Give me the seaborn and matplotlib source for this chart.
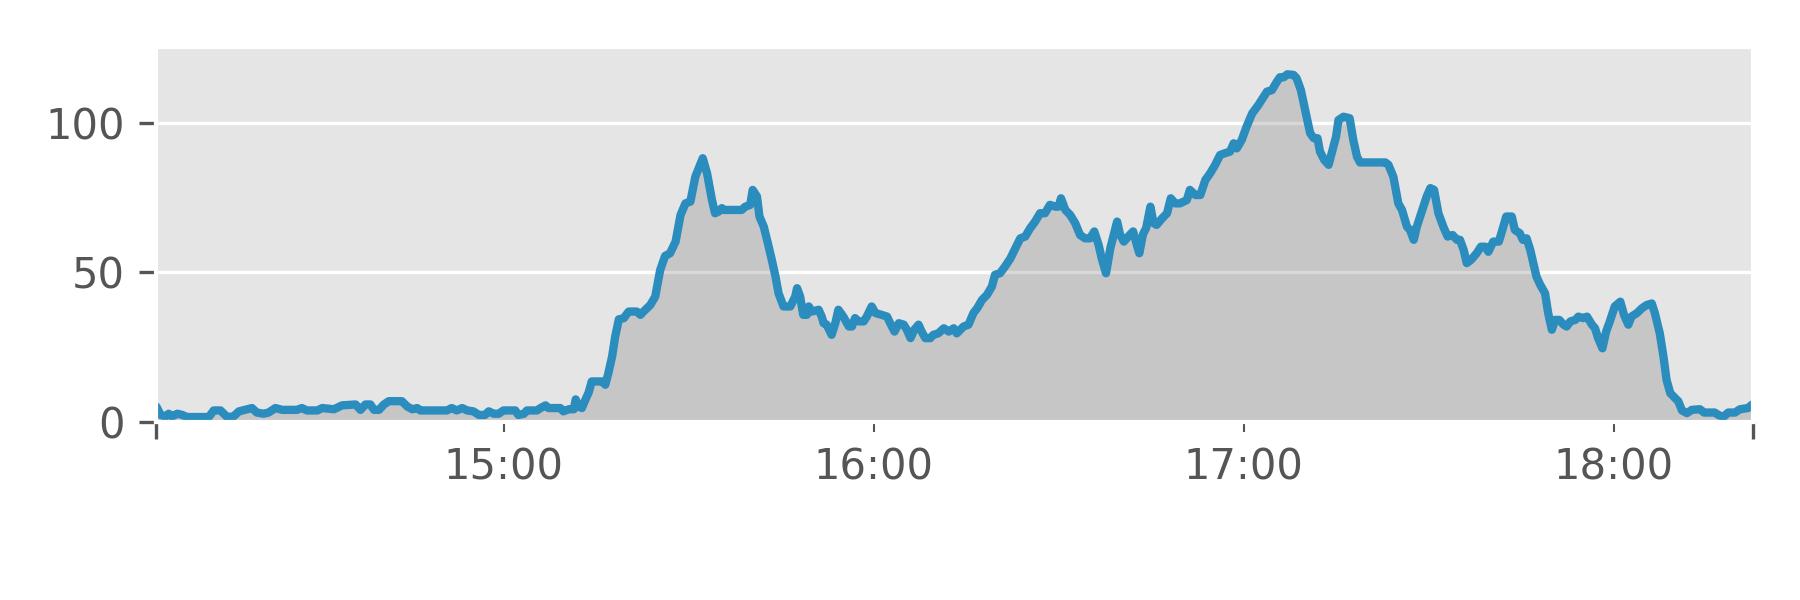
import matplotlib
matplotlib.use("Agg")
import matplotlib.pyplot as plt
import pandas as pd
import seaborn as sns

START = pd.Timestamp("2021-01-01 14:00")

# minutes after 14:00
MINUTES = [
    3.7, 4.4, 5.2, 5.7, 6.2, 7.1, 7.9, 8.7, 12.2, 13.0, 14.1, 15.2, 16.2, 17.1,
    18.4, 19.2, 20.0, 21.1, 21.9, 23.0, 24.1, 26.5, 27.3, 28.1, 29.8, 30.6, 32.5,
    33.8, 36.0, 36.8, 37.6, 38.4, 39.0, 39.8, 40.6, 41.4, 43.5, 44.4, 45.2, 46.0,
    46.5,
    50.8, 51.6, 52.4, 53.3, 54.1, 55.1, 56.0, 57.0, 57.6, 58.4, 59.2, 60.0, 61.9,
    62.4, 63.3, 63.8, 65.4, 66.0, 66.8, 67.3, 69.2, 69.7, 70.6, 71.4, 71.7, 72.2,
    72.7, 73.3, 73.8, 74.3, 76.0, 76.5, 77.0, 77.6, 78.1, 78.7, 79.5, 80.3, 81.6,
    82.2, 82.7, 83.8, 84.6, 85.4, 86.2, 87.0, 87.9, 88.7, 89.5, 90.3, 91.1,
    92.3, 93.0, 93.8, 94.3, 94.9, 95.4, 95.7, 98.6, 99.2, 100.0, 100.4, 101.1,
    101.5, 102.2, 103.0, 103.5, 104.1, 104.6, 105.4, 106.5, 107.3, 107.6, 108.1,
    108.6, 109.2, 109.5, 110.0, 111.1, 111.6, 111.9, 112.4, 113.2, 113.8, 114.3,
    115.1, 116.0, 116.5, 117.0, 117.6, 118.4, 118.9, 119.7, 120.3, 121.3, 122.2,
    122.7, 123.4, 124.1, 124.9, 125.4, 126.0, 126.6, 127.3, 127.8, 128.4, 129.2,
    129.7, 130.5, 131.4, 132.2, 133.0, 133.5,
    134.6, 135.4, 136.2, 136.8, 137.6, 138.4, 139.2, 139.7, 140.5, 141.3, 142.2,
    143.0, 143.8, 144.6, 145.4, 146.2, 147.0, 147.8, 148.6, 149.5, 150.0, 150.4,
    151.1, 151.9, 152.7, 153.5, 154.3, 155.1, 155.8, 156.5, 157.0, 157.7, 158.4,
    159.5, 160.0, 160.6, 161.3, 162.1, 162.7, 163.1, 163.7, 164.2, 164.9, 165.4,
    165.9, 166.8, 167.6, 168.2, 168.9, 169.7, 170.8, 171.3, 172.2, 173.0, 173.8,
    174.6, 175.4, 176.2, 177.0,
    177.8, 178.4, 178.9, 179.7, 180.5, 181.4, 182.4, 183.8, 184.6, 185.4, 185.9,
    186.5, 187.1, 188.1, 188.6, 189.3, 190.0, 190.8, 191.4, 192.0, 192.4, 193.1,
    193.8, 194.3, 195.0, 195.4, 196.2, 197.2, 197.8, 198.4, 198.9, 203.0, 203.5,
    204.3, 205.1, 205.7, 206.5, 207.0, 207.6, 208.1, 208.9, 209.7, 210.3, 210.9,
    211.6, 212.4, 213.1, 213.9, 214.6, 215.1, 215.7, 216.2, 216.9, 217.8, 218.5,
    219.2, 219.7, 220.5, 221.4, 221.9, 222.6,
    223.5, 224.0, 224.8, 225.3, 225.9, 226.5, 227.0, 227.5, 228.1, 228.9, 229.4,
    230.0, 230.5, 231.2, 231.9, 232.4, 233.0, 233.8, 234.3, 235.1, 235.7, 236.5,
    237.0, 237.5, 238.2, 238.8, 239.4, 240.2, 241.1, 241.7, 242.4, 242.9, 243.8,
    244.6, 245.4, 246.2, 246.7, 247.5, 248.1, 248.6, 249.2, 250.0, 250.5, 251.1,
    251.9, 252.7, 254.0, 254.7, 256.4, 257.0, 257.8, 258.6, 259.7, 260.5, 261.8,
    262.5,
]
VALUES = [
    5.1, 2.3, 1.8, 2.7, 1.8, 2.7, 2.3, 1.6, 1.6, 3.8, 3.8, 1.6, 1.8, 3.5,
    4.2, 4.6, 3.1, 2.7, 3.1, 4.6, 4.0, 4.0, 4.6, 3.8, 3.8, 4.6, 4.2,
    5.5, 5.8, 4.0, 5.8, 5.8, 4.0, 4.0, 5.8, 6.9, 6.9, 5.1, 4.2, 4.6,
    3.8,
    3.8, 4.6, 3.8, 4.6, 3.8, 3.5, 2.3, 2.3, 3.5, 2.7, 2.7, 3.8, 3.8,
    2.3, 2.7, 3.8, 3.8, 4.6, 5.5, 4.6, 4.6, 3.5, 4.2, 4.2, 7.5, 5.1,
    4.6, 7.5, 9.8, 13.5, 13.5, 12.4, 16.3, 21.8, 28.5, 34.3, 34.7, 36.9, 36.9,
    35.8, 36.9, 39.1, 41.9, 50.8, 55.5, 56.4, 60.3, 69.2, 73.1, 73.7, 82.0,
    88.2, 83.2, 74.2, 69.8, 70.4, 71.5, 70.9, 70.9, 72.0, 72.6, 77.6, 75.4,
    68.7, 65.3, 58.6, 54.2, 48.6, 43.0, 38.6, 38.6, 41.9, 44.7, 41.9,
    35.8, 35.8, 38.6, 36.9, 37.5, 35.2, 33.0, 32.5, 29.1, 33.0, 37.5,
    35.2, 31.9, 31.9, 34.7, 33.6, 33.6, 35.2, 38.6, 36.4, 35.8, 35.2,
    33.0, 30.2, 33.0, 32.5, 30.8, 28.0, 30.8, 32.5, 30.2, 28.0, 28.0,
    29.1, 29.6, 31.3, 30.2, 31.3, 29.6,
    31.9, 32.5, 36.4, 38.0, 40.8, 42.5, 45.3, 49.2, 49.7, 51.9, 54.7,
    58.1, 61.4, 62.0, 64.8, 67.0, 69.8, 69.8, 72.6, 72.0, 72.0, 74.8,
    70.9, 69.2, 66.5, 62.5, 61.4, 61.4, 63.7, 59.2, 54.7, 49.7, 58.1,
    67.0, 62.5, 60.3, 62.0, 63.7, 59.2, 56.4, 62.8, 64.8, 72.0, 66.5,
    65.9, 68.1, 69.8, 74.8, 73.1, 73.1, 74.2, 77.6, 75.9, 75.9, 80.9,
    83.2, 86.0, 89.3, 89.9,
    90.4, 93.2, 91.5, 94.3, 98.8, 103.2, 106.0, 110.5, 111.0, 113.8, 115.3,
    115.3, 116.3, 116.1, 115.0, 111.0, 104.3, 96.6, 94.9, 94.9, 90.4, 87.6,
    86.0, 89.9, 95.4, 101.0, 102.1, 101.6, 94.3, 88.7, 86.8, 86.8, 86.0,
    82.0, 73.1, 70.9, 65.3, 64.2, 60.9, 65.3, 70.4, 75.4, 78.2, 77.6,
    69.8, 65.3, 62.0, 62.5, 60.9, 60.9, 57.5, 53.1, 54.2, 56.4, 58.6,
    58.6, 56.9, 60.3, 60.3, 63.7, 68.7,
    68.7, 64.2, 63.1, 60.9, 61.4, 57.5, 53.1, 48.6, 45.9, 43.0, 36.4,
    30.8, 34.1, 34.1, 32.5, 31.9, 33.6, 34.1, 35.2, 34.7, 35.2, 32.5,
    31.3, 28.0, 24.6, 30.2, 33.6, 38.6, 40.2, 35.8, 32.5, 35.2, 36.4,
    38.0, 39.1, 39.6, 36.4, 29.6, 21.8, 14.0, 9.6, 7.9, 6.9, 3.8,
    2.9, 4.0, 4.2, 3.1, 3.1, 2.3, 1.6, 3.1, 3.1, 4.2, 4.6,
    5.8,
]
HOUR_LABELS = ["15:00", "16:00", "17:00", "18:00"]
Y_TICKS = [0, 50, 100]

plt.style.use("ggplot")

df = pd.DataFrame({
    "time": START + pd.to_timedelta(MINUTES, unit="m"),
    "value": VALUES,
})

fig, ax = plt.subplots(figsize=(6, 2), dpi=300)
fig.subplots_adjust(left=0.0867, right=0.974, bottom=0.297, top=0.922)

ax.fill_between(df["time"], df["value"], color="grey", alpha=0.3, linewidth=0)
sns.lineplot(data=df, x="time", y="value", ax=ax, color="#2b8cbe", linewidth=2.0,
             solid_joinstyle="round", solid_capstyle="round")

left = START + pd.Timedelta(minutes=3.65)
right = START + pd.Timedelta(minutes=262.65)
ax.set_xlim(left, right)
ax.set_ylim(0, 125.5)

# edge ticks are the long ones, hour ticks are short and carry the labels
ax.set_xticks([left, right], labels=["", ""])
hours = [pd.Timestamp(f"2021-01-01 {h}") for h in HOUR_LABELS]
ax.set_xticks(hours, labels=HOUR_LABELS, minor=True)
ax.set_yticks(Y_TICKS)

ax.xaxis.grid(False, which="both")
ax.tick_params(axis="x", which="major", length=4, width=0.8)
ax.tick_params(axis="x", which="minor", length=2.4, width=0.5, labelsize=10, pad=3.5)
ax.tick_params(axis="y", which="major", length=4, labelsize=10)
ax.set_xlabel("")
ax.set_ylabel("")

fig.savefig("out.png", dpi=300)
